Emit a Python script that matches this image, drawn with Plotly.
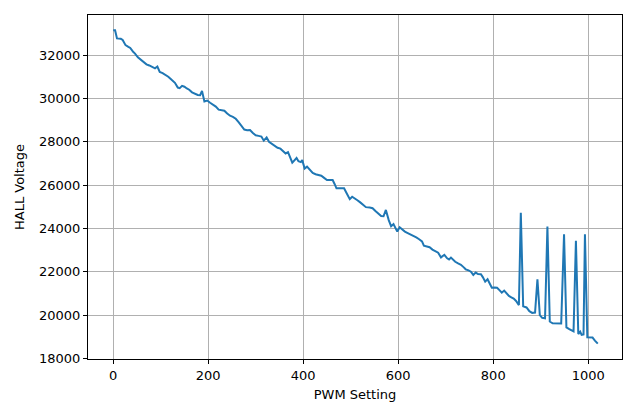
import plotly.graph_objects as go

# PWM setting vs HALL sensor reading
pwm = [0, 4, 8, 16, 20, 26, 32, 36, 42, 46, 52, 58, 64, 70, 76, 82, 88, 93, 98,
       104, 110, 116, 120, 126, 130, 136, 140, 145, 150, 155, 160, 166, 172, 178,
       183, 187, 192, 198, 204, 210, 216, 222, 228, 234, 240, 246, 252, 258, 264,
       270, 276, 282, 288, 294, 300, 306, 312, 317, 323, 328, 334, 340, 346, 352,
       358, 363, 368, 372, 377, 382, 386, 390, 395, 398, 403, 408, 414, 420, 426,
       432, 438, 444, 450, 456, 462, 466, 470, 478, 486, 492, 498, 503, 508, 514,
       520, 526, 532, 540, 546, 552, 558, 564, 569, 574, 580, 585, 590, 594, 598,
       603, 608, 614, 620, 626, 632, 638, 644, 650, 654, 660, 666, 672, 678, 684,
       690, 697, 703, 707, 711, 716, 720, 726, 732, 738, 742, 748, 753, 758, 763,
       768, 774, 778, 783, 788, 792, 797, 803, 808, 813, 818, 823, 828, 833, 838,
       843, 848, 854, 858, 863, 870, 876, 882, 888, 893, 898, 903, 909, 914, 919,
       925, 931, 937, 943, 949, 954, 960, 966, 969, 974, 979, 983, 986, 990, 993,
       998, 1003, 1009, 1014, 1020]

hall = [33150, 33150, 32770, 32750, 32700, 32460, 32380, 32330, 32150, 32070,
        31900, 31800, 31680, 31570, 31520, 31440, 31390, 31470, 31220, 31170,
        31100, 31000, 30920, 30800, 30720, 30500, 30470, 30580, 30540, 30460,
        30400, 30280, 30220, 30160, 30150, 30340, 29860, 29900, 29800, 29720,
        29620, 29480, 29450, 29430, 29300, 29200, 29150, 29060, 28900, 28720,
        28560, 28530, 28540, 28400, 28300, 28270, 28240, 28050, 28200, 28000,
        27900, 27800, 27720, 27680, 27550, 27460, 27520, 27300, 27030, 27150,
        27250, 27100, 27060, 27150, 26760, 26850, 26720, 26560, 26500, 26450,
        26430, 26330, 26230, 26230, 26230, 26050, 25850, 25850, 25850, 25600,
        25350, 25460, 25400, 25300, 25200, 25080, 24980, 24960, 24930, 24800,
        24690, 24570, 24560, 24850, 24380, 24100, 24200, 24000, 23850, 24050,
        23950, 23850, 23780, 23720, 23660, 23580, 23500, 23400, 23200, 23170,
        23130, 23020, 22960, 22880, 22660, 22780, 22620, 22560, 22650, 22520,
        22460, 22380, 22320, 22200, 22110, 22060, 22000, 21850, 21960, 21890,
        21880, 21750, 21540, 21650, 21450, 21260, 21270, 21260, 21150, 21030,
        21130, 20980, 20880, 20820, 20760, 20650, 20460, 24720, 20400, 20350,
        20180, 20100, 20110, 21650, 20000, 19870, 19850, 24080, 19700, 19620,
        19610, 19610, 19610, 23730, 19430, 19350, 19300, 19250, 23430, 19120,
        19230, 19080, 19100, 23730, 18970, 18960, 18960, 18820, 18680]

x_ticks = [0, 200, 400, 600, 800, 1000]
y_ticks = [18000, 20000, 22000, 24000, 26000, 28000, 30000, 32000]

fig = go.Figure()
fig.add_trace(go.Scatter(
    x=pwm, y=hall, mode="lines",
    line=dict(color="#1f77b4", width=2),
))

axis_style = dict(
    showline=True, mirror=True, linecolor="black", linewidth=1,
    showgrid=True, gridcolor="#b0b0b0", gridwidth=1,
    zeroline=False, automargin=False,
    ticks="outside", ticklen=4, tickcolor="black", tickwidth=1,
    tickformat="d",
    tickfont=dict(family="DejaVu Sans", size=13, color="black"),
)

# the page body adds an 8px offset, so the figure is made 8px smaller
fig.update_layout(
    width=632, height=401,
    margin=dict(l=80, r=18, t=7, b=50),
    paper_bgcolor="white",
    plot_bgcolor="white",
    showlegend=False,
    font=dict(family="DejaVu Sans", color="black"),
    xaxis=dict(
        axis_style,
        range=[-53, 1071],
        tickvals=x_ticks,
        title=dict(text="PWM Setting", font=dict(size=13), standoff=8),
    ),
    yaxis=dict(
        axis_style,
        range=[17970, 33850],
        tickvals=y_ticks,
        title=dict(text="HALL Voltage", font=dict(size=13), standoff=11),
    ),
)

fig.write_html("out.html")
